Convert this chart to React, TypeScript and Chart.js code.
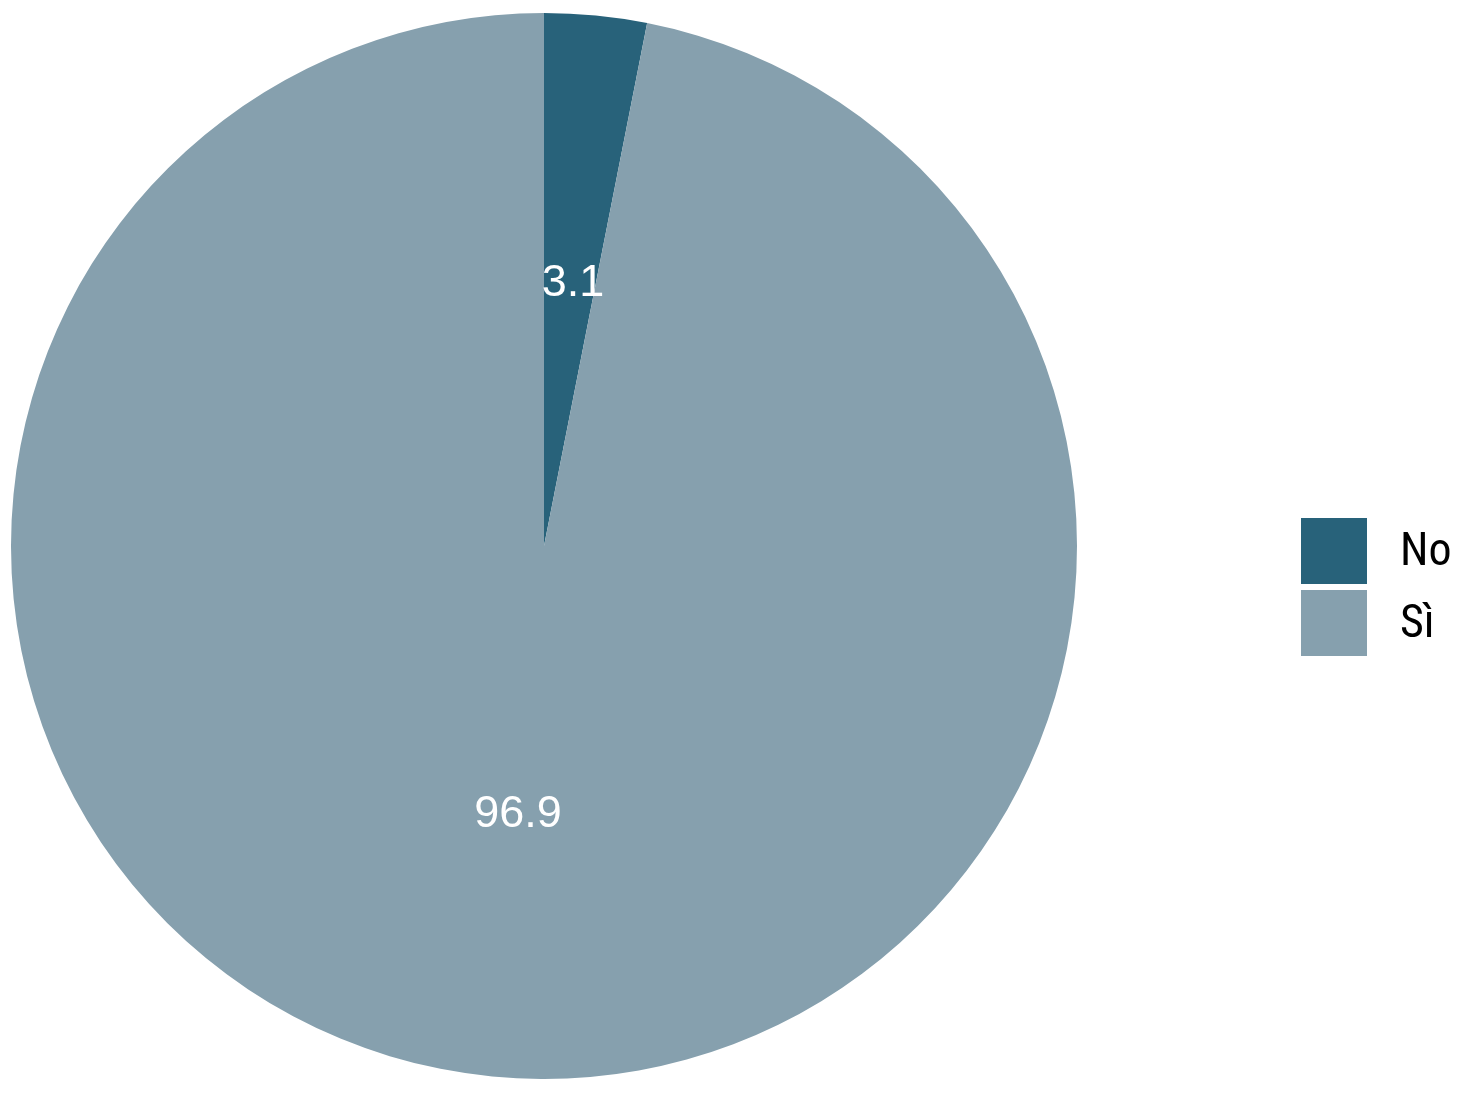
import React, { useEffect, useRef } from "react";
import { Chart, registerables } from "chart.js";

Chart.register(...registerables);

const categories = ["No", "Sì"];
const values = [3.1, 96.9];
const colors = ["#28627A", "#86A0AE"];

const labelPlugin = {
  id: "sliceLabels",
  afterDatasetsDraw(chart: any) {
    const ctx = chart.ctx;
    const meta = chart.getDatasetMeta(0);
    ctx.save();
    ctx.fillStyle = "#FFFFFF";
    ctx.font = '45px "Liberation Sans", Arial, sans-serif';
    ctx.textAlign = "center";
    ctx.textBaseline = "middle";
    meta.data.forEach((arc: any, i: number) => {
      const p = arc.getProps(["x", "y", "startAngle", "endAngle", "outerRadius"], true);
      const mid = (p.startAngle + p.endAngle) / 2;
      const r = p.outerRadius / 2;
      ctx.fillText(String(values[i]), p.x + Math.cos(mid) * r + (i === 0 ? 3 : 0), p.y + Math.sin(mid) * r + 3);
    });
    ctx.restore();
  },
  afterDraw(chart: any) {
    const ctx = chart.ctx;
    ctx.save();
    const bx = 1301;
    const size = 66;
    const startY = 518;
    const step = 72;
    categories.forEach((c, i) => {
      const y = startY + i * step;
      ctx.fillStyle = colors[i];
      ctx.fillRect(bx, y, size, size);
      ctx.fillStyle = "#000000";
      ctx.font = '46px "Liberation Sans Narrow", "Roboto Condensed", "Liberation Sans", sans-serif';
      ctx.textAlign = "left";
      ctx.textBaseline = "middle";
      ctx.fillText(c, 1400, y + size / 2 + 2);
    });
    ctx.restore();
  },
};

export default function App() {
  const ref = useRef<HTMLCanvasElement | null>(null);
  useEffect(() => {
    document.body.style.margin = "0";
    const chart = new Chart(ref.current as HTMLCanvasElement, {
      type: "pie",
      data: {
        labels: categories,
        datasets: [
          {
            data: values,
            backgroundColor: colors,
            borderWidth: 0,
          },
        ],
      },
      options: {
        responsive: false,
        animation: false,
        layout: { padding: { left: 11, top: 13, right: 383, bottom: 23 } },
        plugins: {
          legend: { display: false },
          tooltip: { enabled: false },
        },
      },
      plugins: [labelPlugin],
    });
    return () => chart.destroy();
  }, []);
  return (
    <div style={{ width: 1460, height: 1102, background: "#fff" }}>
      <canvas ref={ref} width={1460} height={1102} style={{ display: "block" }} />
    </div>
  );
}
